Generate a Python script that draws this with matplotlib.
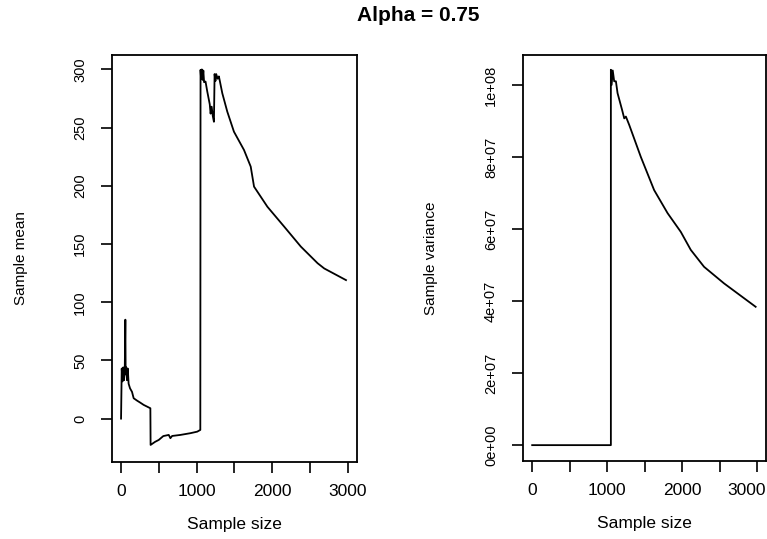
# Sample mean / sample variance paths for alpha = 0.75
import matplotlib
matplotlib.use("Agg")
import matplotlib.pyplot as plt
import matplotlib.transforms as mtransforms

plt.rcParams['font.family'] = ['Liberation Sans', 'DejaVu Sans']

# sample mean path
n_mean = [1, 10, 20, 30, 40, 50, 58, 62, 70, 80, 90, 101, 120, 146, 168, 212,
          256, 300, 389, 392, 450, 500, 560, 632, 654, 677, 787, 920, 1009,
          1050, 1053, 1060, 1070, 1080, 1090, 1100, 1119, 1142, 1160, 1175,
          1186, 1200, 1215, 1230, 1239, 1250, 1260, 1280, 1296, 1341, 1407,
          1495, 1628, 1717, 1761, 1938, 2159, 2380, 2602, 2690, 2978]
mean_vals = [0, 43, 32, 44, 33, 42, 85, 38, 44, 33, 43, 30, 26, 23, 17.5, 15.5,
             13.7, 11.8, 8.9, -22.6, -20, -18.3, -15, -14, -16.8, -14.9, -14,
             -12.5, -11.2, -9.7, 299.6, 292, 300, 291, 299, 289, 289.6, 281,
             275, 270, 262, 268, 260, 255, 296, 290, 296, 292, 294, 279.5,
             263.7, 246.5, 230.8, 216.5, 199.3, 182, 165, 147.8, 133.5, 129, 119]

# sample variance path
n_var = [2, 1050, 1050, 1060, 1075, 1094, 1117, 1139, 1200, 1228, 1250, 1294,
         1449, 1626, 1805, 1981, 2114, 2291, 2557, 2978]
var_vals = [0, 0, 1.042e8, 1.0e8, 1.04e8, 1.01e8, 1.01e8, 9.77e7, 9.3e7, 9.07e7,
            9.12e7, 8.89e7, 8.0e7, 7.08e7, 6.44e7, 5.92e7, 5.42e7, 4.95e7,
            4.49e7, 3.84e7]

mean_ticks = [0, 50, 100, 150, 200, 250, 300]
var_ticks = [0, 2e7, 4e7, 6e7, 8e7, 1e8]
var_tick_labels = ["0e+00", "2e+07", "4e+07", "6e+07", "8e+07", "1e+08"]
x_ticks = [0, 500, 1000, 1500, 2000, 2500, 3000]
x_tick_labels = ["0", "", "1000", "", "2000", "", "3000"]

fig = plt.figure(figsize=(7.67, 5.39), dpi=100)
ax1 = fig.add_axes([0.146, 0.143, 0.319, 0.755])
ax2 = fig.add_axes([0.682, 0.145, 0.317, 0.753])

ax1.plot(n_mean, mean_vals, color='black', linewidth=1.3)
ax2.plot(n_var, var_vals, color='black', linewidth=1.3)

ax1.set_xlim(-119, 3119)
ax1.set_ylim(-37.2, 312.4)
ax2.set_xlim(-119, 3119)
ax2.set_ylim(-4.36e6, 1.083e8)

ax1.set_yticks(mean_ticks)
ax1.set_yticklabels([str(t) for t in mean_ticks], rotation=90, va='center')
ax2.set_yticks(var_ticks)
ax2.set_yticklabels(var_tick_labels, rotation=90, va='center')

for ax in (ax1, ax2):
    ax.set_xticks(x_ticks)
    ax.set_xticklabels(x_tick_labels, fontsize=12.5)
    ax.tick_params(axis='x', direction='out', length=8, width=1.2, pad=8)
    ax.tick_params(axis='y', direction='out', length=8, width=1.2, pad=10,
                   labelsize=10.5)
    for s in ax.spines.values():
        s.set_linewidth(1.3)
    ax.set_xlabel("Sample size", fontsize=12.5)
    ax.xaxis.set_label_coords(0.5, -0.135)

# last x label on the right panel sits against the figure edge
lab = ax2.get_xticklabels()[-1]
lab.set_ha('right')
lab.set_transform(lab.get_transform() +
                  mtransforms.ScaledTranslation(0.09, 0, fig.dpi_scale_trans))

ax1.set_ylabel("Sample mean", fontsize=11)
ax1.yaxis.set_label_coords(-0.343, 0.5)
ax2.set_ylabel("Sample variance", fontsize=11)
ax2.yaxis.set_label_coords(-0.35, 0.5)

fig.text(0.545, 0.972, "Alpha = 0.75", ha='center', va='center',
         fontsize=15, fontweight='bold')

fig.savefig("out.png", dpi=100)
